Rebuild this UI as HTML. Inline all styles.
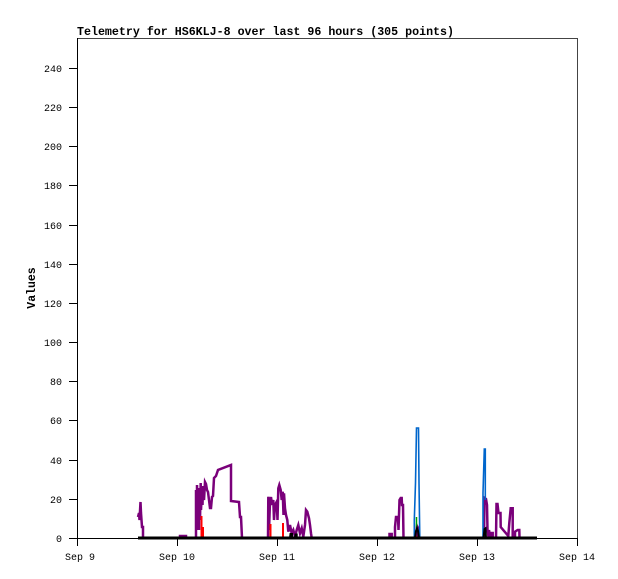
<!DOCTYPE html>
<html>
<head>
<meta charset="utf-8">
<style>
html,body{margin:0;padding:0;background:#fff;}
svg{display:block;}
text{font-family:"Liberation Mono","DejaVu Sans Mono",monospace;fill:#000;}
</style>
</head>
<body>
<svg width="618" height="579" viewBox="0 0 618 579" xmlns="http://www.w3.org/2000/svg">
<rect x="0" y="0" width="618" height="579" fill="#fff"/>

<!-- title -->
<text x="77" y="35" font-size="12" font-weight="bold" textLength="377" lengthAdjust="spacingAndGlyphs">Telemetry for HS6KLJ-8 over last 96 hours (305 points)</text>

<!-- y axis label -->
<text transform="translate(35,288) rotate(-90)" font-size="11.5" font-weight="bold" text-anchor="middle">Values</text>

<!-- plot box -->
<rect x="77.5" y="38.5" width="500" height="500" fill="none" stroke="#444" stroke-width="1"/>
<line x1="77.5" y1="38" x2="77.5" y2="539" stroke="#000" stroke-width="1"/>
<line x1="77" y1="538.5" x2="578" y2="538.5" stroke="#000" stroke-width="1"/>

<!-- y ticks -->
<g stroke="#000" stroke-width="1" shape-rendering="crispEdges">
<line x1="69" y1="538.5" x2="77" y2="538.5"/>
<line x1="69" y1="499.5" x2="77" y2="499.5"/>
<line x1="69" y1="460.5" x2="77" y2="460.5"/>
<line x1="69" y1="420.5" x2="77" y2="420.5"/>
<line x1="69" y1="381.5" x2="77" y2="381.5"/>
<line x1="69" y1="342.5" x2="77" y2="342.5"/>
<line x1="69" y1="303.5" x2="77" y2="303.5"/>
<line x1="69" y1="264.5" x2="77" y2="264.5"/>
<line x1="69" y1="225.5" x2="77" y2="225.5"/>
<line x1="69" y1="185.5" x2="77" y2="185.5"/>
<line x1="69" y1="146.5" x2="77" y2="146.5"/>
<line x1="69" y1="107.5" x2="77" y2="107.5"/>
<line x1="69" y1="68.5" x2="77" y2="68.5"/>
</g>
<g font-size="10" text-anchor="end">
<text x="62" y="542">0</text>
<text x="62" y="503">20</text>
<text x="62" y="464">40</text>
<text x="62" y="424">60</text>
<text x="62" y="385">80</text>
<text x="62" y="346">100</text>
<text x="62" y="307">120</text>
<text x="62" y="268">140</text>
<text x="62" y="229">160</text>
<text x="62" y="189">180</text>
<text x="62" y="150">200</text>
<text x="62" y="111">220</text>
<text x="62" y="72">240</text>
</g>

<!-- x ticks -->
<g stroke="#000" stroke-width="1" shape-rendering="crispEdges">
<line x1="77.5" y1="538" x2="77.5" y2="546"/>
<line x1="177.5" y1="538" x2="177.5" y2="546"/>
<line x1="277.5" y1="538" x2="277.5" y2="546"/>
<line x1="377.5" y1="538" x2="377.5" y2="546"/>
<line x1="477.5" y1="538" x2="477.5" y2="546"/>
<line x1="577.5" y1="538" x2="577.5" y2="546"/>
</g>
<g font-size="10" text-anchor="middle">
<text x="80" y="560">Sep 9</text>
<text x="177" y="560">Sep 10</text>
<text x="277" y="560">Sep 11</text>
<text x="377" y="560">Sep 12</text>
<text x="477" y="560">Sep 13</text>
<text x="577" y="560">Sep 14</text>
</g>

<!-- purple series -->
<g fill="none" stroke="#7a007a" stroke-width="2.5" stroke-linejoin="miter">
<path d="M138,517 L139,513 L139.5,520 L140.5,502 L141,513 L142,527 L143,527 L143,538"/>
<path d="M180,538 L180,536 L186,536 L186,538"/>
<path d="M196,538 L196,490 L197,530 L197,485 L198,525 L198,492 L199,530 L199,488 L200,520 L200.7,483 L201,510 L202,490 L202.5,505 L203,486 L204,500 L205,482 L206,484 L207,490 L208,492 L209,500 L210,508 L211,508 L212,497 L213,496 L214,478 L216,476 L218,470 L231,465 L231,501 L239,502 L240,517 L241,517 L242,538"/>
<path d="M268,538 L268.3,496.7 L269,530 L270,501.7 L271,497 L272,505 L273.3,500 L274,520 L275,505 L276.7,501.7 L277.5,520 L278.3,488.3 L279.3,485 L280.7,490 L281.7,500 L282.7,491.7 L283.5,515 L284,493.3 L285,508.3 L286,515 L287.3,520 L288.3,531.7 L290,525 L291.7,533.3 L293.3,530 L295,536.7 L296.7,530 L298.3,525 L300,533.3 L301.7,528.3 L303.3,536.7 L305,525 L306,510 L307.3,511.7 L309,518.3 L310,525 L311,533.3 L311.7,538"/>
<path d="M389.5,538 L389.5,534 L391.7,534 L391.7,538"/>
<path d="M395,538 L395,527 L396,517 L398,517 L398.5,530 L399.5,500 L400.7,498 L401.7,498 L402,505 L403,505 L403.5,538"/>
<path d="M416,538 L417,526 L418,528 L418.5,538"/>
<path d="M484,538 L484.5,498 L486,499 L487,505 L487.5,530 L488.5,537 L489,530 L490,537"/>
<path d="M490.5,538 L490.5,533 L492.7,533 L492.7,538"/>
<path d="M496,538 L496.5,504 L497.5,504 L498.5,513 L500.5,513 L500.7,527 L508.3,536 L509.3,523 L510.7,508.3 L512.7,508.3 L512.7,538"/>
<path d="M515,538 L515,531.7 L517.7,530 L519.3,530 L519.5,538"/>
</g>

<!-- red series -->
<g fill="#ff0000" stroke="none">
<rect x="200.5" y="516" width="2" height="22"/>
<rect x="202.5" y="527" width="1.5" height="11"/>
<rect x="269.5" y="524" width="2" height="14"/>
<rect x="282" y="523" width="2" height="15"/>
<rect x="415.5" y="536" width="1.5" height="3"/>
</g>

<!-- blue series -->
<g fill="none" stroke="#0066cc" stroke-width="1.6">
<path d="M414.3,538 L414.3,520 L415.5,483 L416.5,428 L418.5,428 L419,483 L419.8,538"/>
<path d="M483,538 L483,493 L484.3,449 L485.3,449 L485.3,500"/>
</g>

<!-- green series -->
<line x1="416.5" y1="517" x2="416.5" y2="528" stroke="#00a000" stroke-width="1.5"/>

<!-- black series -->
<g fill="none" stroke="#000" stroke-width="2">
<path d="M290,538 L290.5,534 L292,534 L292,538"/>
<path d="M295,538 L295.5,534.5 L296.7,534.5 L296.7,538"/>
<path d="M415,538 L416,531 L417,528.3 L418,531 L419,538"/>
<path d="M483.5,538 L484.5,529 L485.5,528.3 L486,538"/>
</g>
<line x1="138" y1="538" x2="537" y2="538" stroke="#000" stroke-width="3"/>
</svg>
</body>
</html>
